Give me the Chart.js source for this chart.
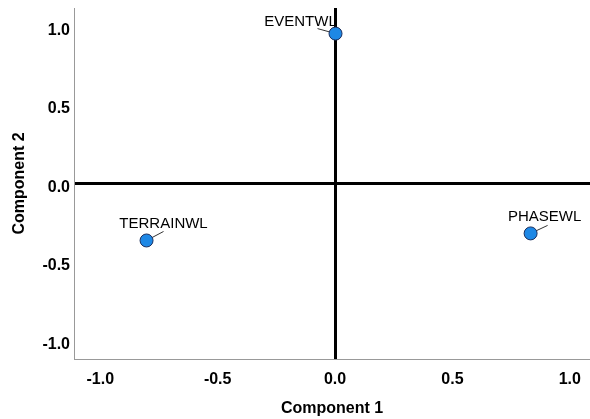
<!DOCTYPE html>
<html>
<head>
<meta charset="utf-8">
<script src="https://cdn.jsdelivr.net/npm/chart.js@4/dist/chart.umd.min.js"></script>
<style>
  html, body { margin: 0; padding: 0; background: #fff; }
  #wrap { width: 590px; height: 419px; }
</style>
</head>
<body>
<div id="wrap"><canvas id="myChart"></canvas></div>
<script>
// component loadings
const variables = ["EVENTWL", "TERRAINWL", "PHASEWL"];
const comp1 = [0.002, -0.803, 0.833];
const comp2 = [0.955, -0.363, -0.318];
const tickValues = [-1.0, -0.5, 0.0, 0.5, 1.0];

// where each label sits relative to its point (px) and leader line start
const labelOffsets = [
  { dx: -35, dy: -12, lx: -18, ly: -5 },
  { dx: 17, dy: -17, lx: 17, ly: -9 },
  { dx: 14, dy: -17, lx: 17, ly: -8 }
];

const FONT = "'Liberation Sans', Arial, sans-serif";

const pointLabels = {
  id: "pointLabels",
  beforeDatasetsDraw(chart) {
    const ctx = chart.ctx;
    const meta = chart.getDatasetMeta(0);
    ctx.save();
    ctx.strokeStyle = "#333";
    ctx.lineWidth = 1;
    meta.data.forEach((pt, i) => {
      const o = labelOffsets[i];
      ctx.beginPath();
      ctx.moveTo(pt.x + o.lx, pt.y + o.ly);
      ctx.lineTo(pt.x, pt.y);
      ctx.stroke();
    });
    ctx.restore();
  },
  afterDatasetsDraw(chart) {
    const ctx = chart.ctx;
    const meta = chart.getDatasetMeta(0);
    ctx.save();
    ctx.font = "15px " + FONT;
    ctx.fillStyle = "#000";
    ctx.textAlign = "center";
    ctx.textBaseline = "middle";
    meta.data.forEach((pt, i) => {
      const o = labelOffsets[i];
      ctx.fillText(variables[i], pt.x + o.dx, pt.y + o.dy);
    });
    ctx.restore();
  }
};

const axisTicks = (scale) => {
  scale.ticks = tickValues.map(v => ({ value: v }));
};

const zeroGrid = {
  drawTicks: false,
  color: c => (c.tick && c.tick.value === 0 ? "#000" : "rgba(0,0,0,0)"),
  lineWidth: c => (c.tick && c.tick.value === 0 ? 3 : 0)
};

const ctx = document.getElementById("myChart").getContext("2d");
new Chart(ctx, {
  type: "scatter",
  data: {
    datasets: [{
      data: comp1.map((x, i) => ({ x: x, y: comp2[i] })),
      backgroundColor: "#1e88e5",
      borderColor: "#1b2f5e",
      borderWidth: 1,
      pointRadius: 6.5,
      pointHoverRadius: 6.5
    }]
  },
  options: {
    responsive: true,
    maintainAspectRatio: false,
    animation: false,
    layout: { autoPadding: false, padding: { top: 8, left: 0, right: 0, bottom: 0 } },
    plugins: {
      legend: { display: false },
      tooltip: { enabled: false }
    },
    scales: {
      x: {
        type: "linear",
        min: -1.112,
        max: 1.086,
        afterBuildTicks: axisTicks,
        afterFit(scale) {
          scale.height = 60;
          scale.paddingLeft = 0;
          scale.paddingRight = 0;
        },
        border: { color: "#999", width: 1 },
        grid: zeroGrid,
        ticks: {
          padding: 11,
          color: "#000",
          font: { family: FONT, size: 16, weight: "bold" },
          callback: v => v.toFixed(1)
        },
        title: {
          display: true,
          text: "Component 1",
          color: "#000",
          padding: { top: 0, bottom: 1 },
          font: { family: FONT, size: 16, weight: "bold" }
        }
      },
      y: {
        type: "linear",
        min: -1.118,
        max: 1.118,
        afterBuildTicks: axisTicks,
        afterFit(scale) {
          scale.width = 74;
          scale.paddingTop = 0;
          scale.paddingBottom = 0;
        },
        border: { color: "#999", width: 1 },
        grid: zeroGrid,
        ticks: {
          padding: 4,
          labelOffset: 4,
          color: "#000",
          font: { family: FONT, size: 16, weight: "bold" },
          callback: v => v.toFixed(1)
        },
        title: {
          display: true,
          text: "Component 2",
          color: "#000",
          padding: { top: 10, bottom: 0 },
          font: { family: FONT, size: 16, weight: "bold" }
        }
      }
    }
  },
  plugins: [pointLabels]
});
</script>
</body>
</html>
